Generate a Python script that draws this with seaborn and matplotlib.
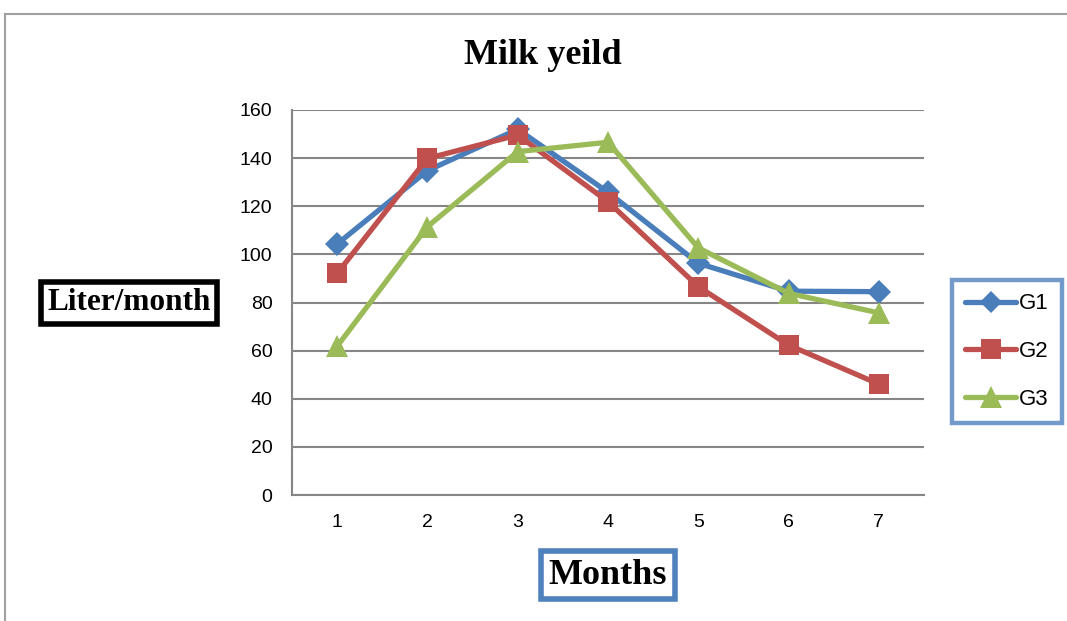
import matplotlib
matplotlib.use("Agg")
import matplotlib.pyplot as plt
import seaborn as sns
import pandas as pd
from matplotlib.patches import Rectangle

months = [1, 2, 3, 4, 5, 6, 7]
g1 = [104.3, 134.8, 152.0, 125.8, 96.3, 84.7, 84.5]
g2 = [92.1, 139.9, 149.6, 121.9, 86.6, 62.3, 46.1]
g3 = [61.8, 111.5, 142.7, 146.6, 102.7, 83.8, 75.7]
series_names = ["G1", "G2", "G3"]
yticks = [0, 20, 40, 60, 80, 100, 120, 140, 160]

rows = []
for name, vals in zip(series_names, [g1, g2, g3]):
    for m, v in zip(months, vals):
        rows.append({"Month": m, "Value": v, "Group": name})
df = pd.DataFrame(rows)

sns.set_style("white")
plt.rcParams["font.family"] = ["Liberation Sans", "DejaVu Sans"]
plt.rcParams["text.color"] = "black"
plt.rcParams["xtick.color"] = "black"
plt.rcParams["ytick.color"] = "black"
plt.rcParams["xtick.labelcolor"] = "black"
plt.rcParams["ytick.labelcolor"] = "black"

fig = plt.figure(figsize=(10.67, 6.21), dpi=100)
ax = fig.add_axes([292/1067, 1-495/621, (924-292)/1067, (495-110)/621])

palette = {"G1": "#4A7EBB", "G2": "#C0504D", "G3": "#9BBB59"}
markers = {"G1": "D", "G2": "s", "G3": "^"}
sizes_m = {"G1": 12, "G2": 14.5, "G3": 16}

sns.lineplot(data=df, x="Month", y="Value", hue="Group", style="Group",
             palette=palette, markers=markers, dashes=False, linewidth=3.8,
             markersize=12, markeredgewidth=0, ax=ax, legend=True, zorder=3)
for line, name in zip(ax.get_lines()[:3], series_names):
    line.set_markersize(sizes_m[name])

ax.set_xlim(0.5, 7.5)
ax.set_ylim(0, 160)
ax.set_yticks(yticks)
ax.set_yticklabels([str(t) for t in yticks], fontsize=14)
ax.set_xticks([1.5, 2.5, 3.5, 4.5, 5.5, 6.5, 7.5], minor=False)
ax.set_xticklabels([])
ax.set_xticks(months, minor=True)
ax.set_xticklabels([str(m) for m in months], minor=True, fontsize=14)
ax.tick_params(axis="x", which="major", length=8, width=1.3, color="#868686", direction="out")
ax.tick_params(axis="x", which="minor", length=0, pad=14)
ax.tick_params(axis="y", length=6, width=1.3, color="#868686", direction="out", pad=8)
ax.grid(axis="y", color="#868686", linewidth=1.5)
ax.set_axisbelow(True)
for s in ["top", "right"]:
    ax.spines[s].set_visible(False)
for s in ["left", "bottom"]:
    ax.spines[s].set_color("#868686")
    ax.spines[s].set_linewidth(1.5)
ax.set_xlabel("")
ax.set_ylabel("")

leg = ax.legend(loc="upper left", bbox_to_anchor=(952/1067, 1-280/621),
                bbox_transform=fig.transFigure, frameon=True, fontsize=16,
                handlelength=2.3, labelspacing=1.2, borderpad=0.6,
                handletextpad=0.1, borderaxespad=0, fancybox=False,
                markerscale=1.0)
leg.get_frame().set_edgecolor("#4F81BD")
leg.get_frame().set_linewidth(3.2)
for h, name in zip(leg.legend_handles, series_names):
    h.set_linewidth(3.8)
    h.set_markersize(sizes_m[name] * 0.95)

fig.text(543/1067, 1-56/621, "Milk yeild", ha="center", va="center",
         fontsize=26, fontweight="bold", family="Liberation Serif")
fig.text(129/1067, 1-303/621, "Liter/month", ha="center", va="center",
         fontsize=22.5, fontweight="bold", family="Liberation Serif",
         bbox=dict(boxstyle="square,pad=0.2", fc="white", ec="black", lw=4))
fig.text(608/1067, 1-575/621, "Months", ha="center", va="center",
         fontsize=26, fontweight="bold", family="Liberation Serif",
         bbox=dict(boxstyle="square,pad=0.22", fc="white", ec="#4F81BD", lw=4))

fig.patches.append(Rectangle((5/1067, -0.2), 1.2, 1.2 - 14/621,
                             transform=fig.transFigure, fill=False,
                             ec="#A0A0A0", lw=1.5, figure=fig))

fig.savefig("out.png", dpi=100)
